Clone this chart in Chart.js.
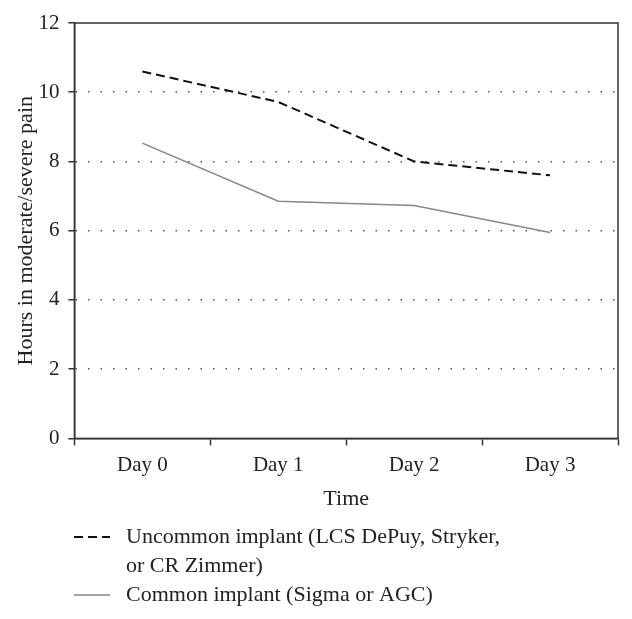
<!DOCTYPE html>
<html>
<head>
<meta charset="utf-8">
<script src="https://cdn.jsdelivr.net/npm/chart.js@4.4.1/dist/chart.umd.min.js"></script>
<style>
    html, body { margin: 0; padding: 0; background: #fff; }
    #wrap { width: 632px; height: 619px; }
</style>
</head>
<body>
<div id="wrap"><canvas id="painChart" width="632" height="619"></canvas></div>
<script>
const days = ['Day 0', 'Day 1', 'Day 2', 'Day 3'];
const uncommonHours = [10.6, 9.72, 8.0, 7.6];
const commonHours = [8.53, 6.85, 6.73, 5.95];
const legendLabels = [
    ['Uncommon implant (LCS DePuy, Stryker,', 'or CR Zimmer)'],
    ['Common implant (Sigma or AGC)']
];

const serif = "'Liberation Serif', 'DejaVu Serif', serif";

// box around plot area (top + right edges)
const frame = {
    id: 'frame',
    afterDraw(chart) {
        const { ctx, chartArea } = chart;
        ctx.save();
        ctx.strokeStyle = '#333';
        ctx.lineWidth = 1.5;
        ctx.strokeRect(chartArea.left, chartArea.top, chartArea.right - chartArea.left, chartArea.bottom - chartArea.top);
        ctx.restore();
    }
};

// legend under the chart, with wrapped text
const bottomLegend = {
    id: 'bottomLegend',
    afterDraw(chart) {
        const ctx = chart.ctx;
        ctx.save();
        ctx.font = '22px ' + serif;
        ctx.fillStyle = '#222';
        ctx.textBaseline = 'middle';
        let y = 537;
        chart.data.datasets.forEach((ds, i) => {
            ctx.beginPath();
            ctx.strokeStyle = ds.borderColor;
            ctx.lineWidth = ds.borderWidth;
            ctx.setLineDash(ds.borderDash || []);
            ctx.moveTo(74, y);
            ctx.lineTo(110, y);
            ctx.stroke();
            ctx.setLineDash([]);
            legendLabels[i].forEach(line => {
                ctx.fillText(line, 126, y);
                y += 29;
            });
        });
        ctx.restore();
    }
};

new Chart(document.getElementById('painChart'), {
    type: 'line',
    data: {
        labels: days,
        datasets: [
            {
                label: 'Uncommon implant',
                data: uncommonHours,
                borderColor: '#111',
                borderWidth: 2,
                borderDash: [9, 5],
                pointRadius: 0,
                tension: 0
            },
            {
                label: 'Common implant',
                data: commonHours,
                borderColor: '#888',
                borderWidth: 1.6,
                pointRadius: 0,
                tension: 0
            }
        ]
    },
    options: {
        responsive: false,
        animation: false,
        layout: { padding: { top: 23, right: 14, bottom: 102, left: 0 } },
        plugins: {
            legend: { display: false },
            tooltip: { enabled: false }
        },
        scales: {
            x: {
                offset: true,
                grid: {
                    offset: true,
                    drawOnChartArea: false,
                    drawTicks: true,
                    tickLength: 7,
                    tickColor: '#333',
                    tickWidth: 1.5
                },
                border: { color: '#333', width: 1.5 },
                ticks: { color: '#222', font: { family: serif, size: 21 }, padding: 7 },
                title: { display: true, text: 'Time', color: '#222', font: { family: serif, size: 22 }, padding: { top: 1, bottom: 5 } }
            },
            y: {
                min: 0,
                max: 12,
                ticks: { stepSize: 2, color: '#222', font: { family: serif, size: 21 }, padding: 9 },
                grid: {
                    color: ctx => (ctx.tick && (ctx.tick.value === 0 || ctx.tick.value === 12)) ? 'rgba(0,0,0,0)' : '#555',
                    lineWidth: 1.5,
                    tickBorderDash: [],
                    tickColor: '#333',
                    tickWidth: 1.5,
                    tickLength: 6
                },
                border: { color: '#333', width: 1.5, dash: [1.5, 11] },
                title: { display: true, text: 'Hours in moderate/severe pain', color: '#222', font: { family: serif, size: 22 }, padding: { top: 13, bottom: -10 } }
            }
        }
    },
    plugins: [frame, bottomLegend]
});
</script>
</body>
</html>
